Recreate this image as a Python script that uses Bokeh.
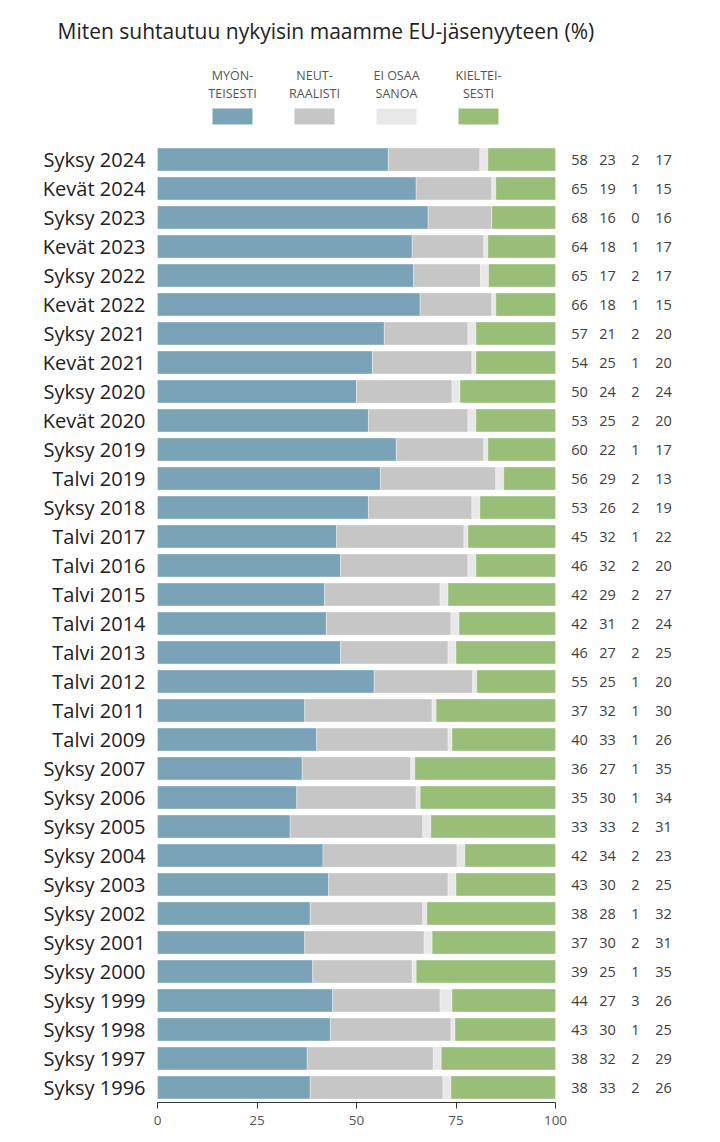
from bokeh.plotting import figure
from bokeh.models import Range1d, LinearAxis, FixedTicker, ColumnDataSource
from bokeh.core.properties import value
from bokeh.embed import file_html
from bokeh.resources import INLINE

TITLE = "Miten suhtautuu nykyisin maamme EU-jäsenyyteen (%)"

categories = ["Syksy 2024", "Kevät 2024", "Syksy 2023", "Kevät 2023", "Syksy 2022",
              "Kevät 2022", "Syksy 2021", "Kevät 2021", "Syksy 2020", "Kevät 2020",
              "Syksy 2019", "Talvi 2019", "Syksy 2018", "Talvi 2017", "Talvi 2016",
              "Talvi 2015", "Talvi 2014", "Talvi 2013", "Talvi 2012", "Talvi 2011",
              "Talvi 2009", "Syksy 2007", "Syksy 2006", "Syksy 2005", "Syksy 2004",
              "Syksy 2003", "Syksy 2002", "Syksy 2001", "Syksy 2000", "Syksy 1999",
              "Syksy 1998", "Syksy 1997", "Syksy 1996"]

myonteisesti = [58, 65, 68, 64, 65, 66, 57, 54, 50, 53, 60, 56, 53, 45, 46, 42, 42, 46, 55,
                37, 40, 36, 35, 33, 42, 43, 38, 37, 39, 44, 43, 38, 38]
neutraalisti = [23, 19, 16, 18, 17, 18, 21, 25, 24, 25, 22, 29, 26, 32, 32, 29, 31, 27, 25,
                32, 33, 27, 30, 33, 34, 30, 28, 30, 25, 27, 30, 32, 33]
ei_osaa = [2, 1, 0, 1, 2, 1, 2, 1, 2, 2, 1, 2, 2, 1, 2, 2, 2, 2, 1,
           1, 1, 1, 1, 2, 2, 2, 1, 2, 1, 3, 1, 2, 2]
kielteisesti = [17, 15, 16, 17, 17, 15, 20, 20, 24, 20, 17, 13, 19, 22, 20, 27, 24, 25, 20,
                30, 26, 35, 34, 31, 23, 25, 32, 31, 35, 26, 25, 29, 26]

series_labels = [("MYÖN-", "TEISESTI"), ("NEUT-", "RAALISTI"), ("EI OSAA", "SANOA"), ("KIELTEI-", "SESTI")]
colors = ["#7AA3B8", "#C6C6C6", "#E8E8E8", "#99BE78"]
x_ticks = [0, 25, 50, 75, 100]

FONT = "Open Sans"

# --- layout (pixels) ---
W, H = 720, 1142
BOTTOM = 40
frame_h = H - BOTTOM
x0_px, x100_px = 157, 555
ppu = (x100_px - x0_px) / 100.0
row0_px, row_step = 159, 29.0
n = len(categories)

x_start = -x0_px / ppu
x_end = (W - x0_px) / ppu
y_top = -row0_px / row_step
y_bot = (frame_h - row0_px) / row_step

p = figure(width=W, height=H, output_backend="svg", toolbar_location=None,
           x_range=Range1d(x_start, x_end), y_range=Range1d(y_bot, y_top),
           min_border_left=0, min_border_right=0, min_border_top=0, min_border_bottom=BOTTOM,
           x_axis_type=None, y_axis_type=None)
p.outline_line_color = None
p.grid.visible = False
p.background_fill_color = "white"
p.border_fill_color = "white"

# normalized stacked bars
rows = list(range(n))
totals = [a + b + c + d for a, b, c, d in zip(myonteisesti, neutraalisti, ei_osaa, kielteisesti)]
series = [myonteisesti, neutraalisti, ei_osaa, kielteisesti]
left = [0.0] * n
for s, col in zip(series, colors):
    vals = [v / t * 100.0 for v, t in zip(s, totals)]
    right = [l + v for l, v in zip(left, vals)]
    src = ColumnDataSource(dict(y=rows, left=left, right=right))
    p.hbar(y="y", left="left", right="right", height=0.79, source=src,
           fill_color=col, line_color="white", line_alpha=0.35, line_width=1)
    left = right

# category labels
p.text(x=[-12 / ppu] * n, y=rows, text=categories, text_align="right", text_baseline="middle",
       text_font=value(FONT), text_font_size="20px", text_color="#222222")

# value labels
value_cols_px = [579, 607, 635, 663]
for s, cx in zip(series, value_cols_px):
    xd = (cx - x0_px) / ppu
    p.text(x=[xd] * n, y=rows, text=[str(v) for v in s], text_align="center",
           text_baseline="middle", text_font=value(FONT), text_font_size="14.5px",
           text_color="#404040")

# legend (drawn in plot coords)
leg_cx_px = [232, 314, 396, 478]
sw_y = (116 - row0_px) / row_step
l1_y = (75 - row0_px) / row_step
l2_y = (93 - row0_px) / row_step
leg_x = [(c - x0_px) / ppu for c in leg_cx_px]
p.rect(x=leg_x, y=[sw_y] * 4, width=40 / ppu, height=16 / row_step,
       fill_color=colors, line_color=None)
p.text(x=leg_x, y=[l1_y] * 4, text=[a for a, b in series_labels], text_align="center",
       text_baseline="middle", text_font=value(FONT), text_font_size="12.5px",
       text_color="#555555")
p.text(x=leg_x, y=[l2_y] * 4, text=[b for a, b in series_labels], text_align="center",
       text_baseline="middle", text_font=value(FONT), text_font_size="12.5px",
       text_color="#555555")

# title
p.text(x=[(57 - x0_px) / ppu], y=[(30 - row0_px) / row_step], text=[TITLE],
       text_align="left", text_baseline="middle", text_font=value(FONT),
       text_font_size="21px", text_color="#222222")

# x axis
ax = LinearAxis(bounds=(0, 100), ticker=FixedTicker(ticks=x_ticks))
ax.axis_line_color = "#333333"
ax.major_tick_line_color = "#333333"
ax.major_tick_out = 6
ax.major_tick_in = 0
ax.minor_tick_line_color = None
ax.major_label_text_font = FONT
ax.major_label_text_font_size = "13.5px"
ax.major_label_text_color = "#555555"
ax.major_label_standoff = 7
p.add_layout(ax, "below")

open("out.html", "w").write(file_html(p, INLINE))
